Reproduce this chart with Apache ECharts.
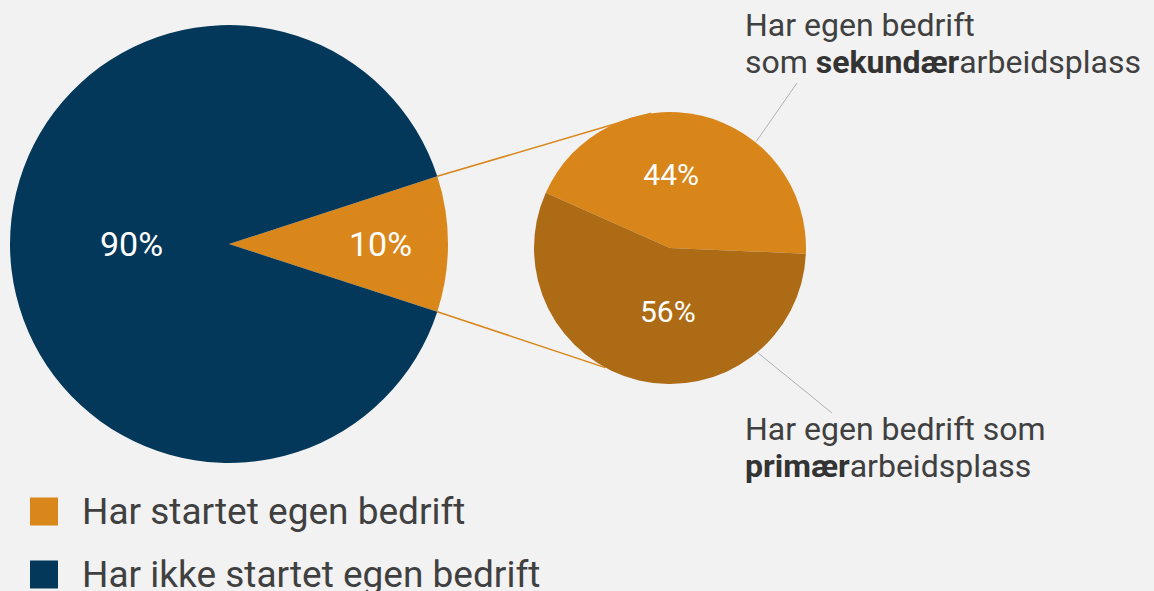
<!DOCTYPE html>
<html>
<head>
<meta charset="utf-8">
<script src="https://cdn.jsdelivr.net/npm/echarts@6/dist/echarts.min.js"></script>
<style>
html,body{margin:0;padding:0;background:#f2f2f2;}
#chart{width:1154px;height:591px;}
</style>
</head>
<body>
<div id="chart"></div>
<script>
// ---- data ----
const categories = ['Har startet egen bedrift', 'Har ikke startet egen bedrift'];
const mainValues = [10, 90];
const subCategories = ['Har egen bedrift som sekundær arbeidsplass', 'Har egen bedrift som primær arbeidsplass'];
const subValues = [44, 56];
const mainColors = ['#d9861a', '#03385a'];
const subColors = ['#d8851a', '#ad6b15'];

// ---- layout ----
const big = { cx: 229, cy: 244, r: 219, start: 18 };
const small = { cx: 670, cy: 248, r: 136, start: 156 };
const bigLabelShift = [[39, 0], [15, 0]];
const smallLabelShift = [[-15, -4], [14, -6]];

function pt(c, r, deg) {
  const a = deg * Math.PI / 180;
  return [c.cx + r * Math.cos(a), c.cy - r * Math.sin(a)];
}
const totalMain = mainValues.reduce((a, b) => a + b, 0);
const edgeTop = pt(big, big.r, big.start);
const edgeBot = pt(big, big.r, big.start - 360 * mainValues[0] / totalMain);
const sTop = pt(small, small.r, 98);
const sBot = pt(small, small.r, 241.6);
const leadTopA = pt(small, small.r + 1, 51);
const leadBotA = pt(small, small.r + 1, -50);

const chart = echarts.init(document.getElementById('chart'), null, { renderer: 'svg' });
const txtColor = '#404040';
const richStyle = {
  r: { fontFamily: 'Roboto', fontSize: 32, lineHeight: 37, fill: txtColor },
  b: { fontFamily: 'Roboto', fontSize: 32, lineHeight: 37, fontWeight: 'bold', fill: '#333' }
};
chart.setOption({
  backgroundColor: '#f2f2f2',
  animation: false,
  legend: {
    data: categories,
    orient: 'vertical',
    left: 25,
    top: 488,
    height: 140,
    icon: 'rect',
    itemWidth: 28,
    itemHeight: 28,
    itemGap: 26,
    selectedMode: false,
    textStyle: { fontFamily: 'Roboto', fontSize: 37, color: txtColor, padding: [0, 0, 0, 19] }
  },
  graphic: [
    { type: 'line', z: 1, shape: { x1: edgeTop[0], y1: edgeTop[1], x2: sTop[0], y2: sTop[1] }, style: { stroke: '#d9861a', lineWidth: 1.5 } },
    { type: 'line', z: 1, shape: { x1: edgeBot[0], y1: edgeBot[1], x2: sBot[0], y2: sBot[1] }, style: { stroke: '#d9861a', lineWidth: 1.5 } },
    { type: 'line', z: 1, shape: { x1: leadTopA[0], y1: leadTopA[1], x2: 797, y2: 83 }, style: { stroke: '#b0b0b0', lineWidth: 1 } },
    { type: 'line', z: 1, shape: { x1: leadBotA[0], y1: leadBotA[1], x2: 832, y2: 413 }, style: { stroke: '#b0b0b0', lineWidth: 1 } },
    {
      type: 'text', x: 745, y: 6, z: 5,
      style: {
        text: '{r|Har egen bedrift}\n{r|som }{b|sekundær}{r|arbeidsplass}',
        verticalAlign: 'top', align: 'left',
        rich: richStyle
      }
    },
    {
      type: 'text', x: 745, y: 410, z: 5,
      style: {
        text: '{r|Har egen bedrift som}\n{b|primær}{r|arbeidsplass}',
        verticalAlign: 'top', align: 'left',
        rich: richStyle
      }
    }
  ],
  series: [
    {
      type: 'pie', z: 2, silent: true,
      center: [big.cx, big.cy], radius: [0, big.r],
      startAngle: big.start, clockwise: true,
      avoidLabelOverlap: false,
      label: { show: true, position: 'inside', formatter: '{c}%', color: '#fff', fontFamily: 'Roboto', fontSize: 34 },
      labelLine: { show: false },
      labelLayout: p => ({ dx: bigLabelShift[p.dataIndex][0], dy: bigLabelShift[p.dataIndex][1] }),
      emphasis: { disabled: true },
      data: categories.map((n, i) => ({ name: n, value: mainValues[i], itemStyle: { color: mainColors[i] } }))
    },
    {
      type: 'pie', z: 2, silent: true,
      center: [small.cx, small.cy], radius: [0, small.r],
      startAngle: small.start, clockwise: true,
      avoidLabelOverlap: false,
      label: { show: true, position: 'inside', formatter: '{c}%', color: '#fff', fontFamily: 'Roboto', fontSize: 30 },
      labelLine: { show: false },
      labelLayout: p => ({ dx: smallLabelShift[p.dataIndex][0], dy: smallLabelShift[p.dataIndex][1] }),
      emphasis: { disabled: true },
      data: subCategories.map((n, i) => ({ name: n, value: subValues[i], itemStyle: { color: subColors[i] } }))
    }
  ]
});
</script>
</body>
</html>
